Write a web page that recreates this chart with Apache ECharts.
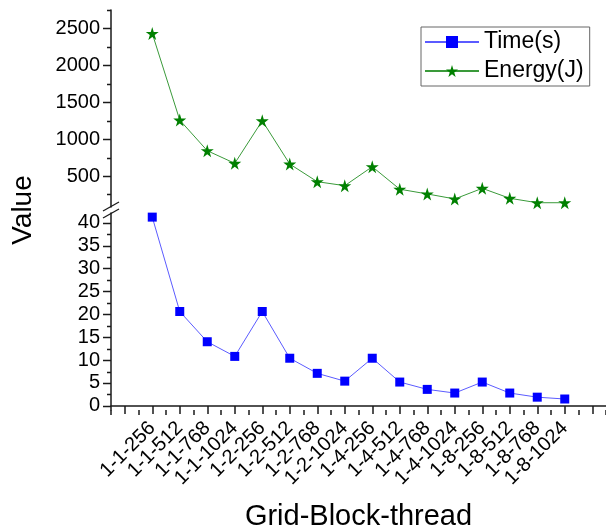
<!DOCTYPE html>
<html>
<head>
<meta charset="utf-8">
<script src="https://cdn.jsdelivr.net/npm/echarts@6/dist/echarts.min.js"></script>
<style>
  html, body { margin: 0; padding: 0; background: #fff; }
  #main { width: 606px; height: 532px; }
</style>
</head>
<body>
<div id="main"></div>
<script>
// grid-block-thread configurations
const configs = ['1-1-256', '1-1-512', '1-1-768', '1-1-1024', '1-2-256', '1-2-512', '1-2-768', '1-2-1024',
  '1-4-256', '1-4-512', '1-4-768', '1-4-1024', '1-8-256', '1-8-512', '1-8-768', '1-8-1024'];
const timeS = [41.2, 20.6, 14.0, 10.8, 20.6, 10.4, 7.1, 5.4, 10.4, 5.2, 3.6, 2.8, 5.2, 2.8, 1.9, 1.5];
const energyJ = [2432, 1258, 843, 672, 1249, 662, 423, 369, 626, 321, 257, 189, 333, 198, 138, 138];
const upperTicks = [500, 1000, 1500, 2000, 2500];
const upperMinor = [250, 750, 1250, 1750, 2250, 2750];
const lowerTicks = [0, 5, 10, 15, 20, 25, 30, 35, 40];
const lowerMinor = [2.5, 7.5, 12.5, 17.5, 22.5, 27.5, 32.5, 37.5];

// one empty slot at each end of the axis
const cats = [''].concat(configs, ['']);

const chart = echarts.init(document.getElementById('main'));
const font = 'Liberation Sans, Arial, sans-serif';
const axisColor = '#1a1a1a';
const gridLeft = 111;
const upperRange = [80, 2750];
const lowerRange = [-0.9, 42.1];
const star = 'path://M50,0 L61,35 L98,35 L68,57 L79,91 L50,70 L21,91 L32,57 L2,35 L39,35 Z';
const tickStyle = { color: axisColor, width: 1.5 };
const plain = v => String(v);

const option = {
  animation: false,
  textStyle: { fontFamily: font },
  grid: [
    { left: gridLeft, right: 0, top: 10, bottom: 325 },
    { left: gridLeft, right: 0, top: 213, bottom: 122 }
  ],
  legend: {
    orient: 'vertical',
    left: 421, top: 27,
    itemWidth: 54, itemHeight: 15, itemGap: 5,
    padding: [3, 6, 3, 3],
    borderColor: '#666', borderWidth: 1,
    textStyle: { fontSize: 23, color: '#000', fontFamily: font, lineHeight: 24 },
    data: ['Time(s)', 'Energy(J)']
  },
  xAxis: [
    { type: 'category', gridIndex: 0, data: cats, show: false },
    {
      type: 'category', gridIndex: 1, position: 'bottom', data: cats,
      axisLine: { show: true, lineStyle: tickStyle },
      axisTick: { show: true, alignWithLabel: true, interval: 0, length: 8, lineStyle: tickStyle },
      axisLabel: { interval: 0, rotate: 45, fontSize: 20, color: '#000', margin: 15 },
      name: 'Grid-Block-thread', nameLocation: 'middle', nameGap: 92,
      nameTextStyle: { fontSize: 29, color: '#000' }
    },
    {
      type: 'category', gridIndex: 1, position: 'bottom', data: cats,
      axisLine: { show: false },
      axisTick: { show: true, interval: 0, length: 5, lineStyle: tickStyle },
      axisLabel: { show: false }
    }
  ],
  yAxis: [
    {
      type: 'value', gridIndex: 0, position: 'left', min: upperRange[0], max: upperRange[1],
      splitLine: { show: false },
      axisLine: { show: true, lineStyle: tickStyle },
      axisTick: { show: false },
      axisLabel: { customValues: upperTicks, formatter: plain, fontSize: 20, color: '#000', margin: 11 }
    },
    {
      type: 'value', gridIndex: 1, position: 'left', min: lowerRange[0], max: lowerRange[1],
      splitLine: { show: false },
      axisLine: { show: true, lineStyle: tickStyle },
      axisTick: { show: false },
      axisLabel: { customValues: lowerTicks, formatter: plain, fontSize: 20, color: '#000', margin: 11 }
    }
  ],
  series: [
    {
      name: 'Time(s)', type: 'line', xAxisIndex: 1, yAxisIndex: 1,
      data: timeS.map((v, i) => [i + 1, v]),
      symbol: 'rect', symbolSize: 9,
      itemStyle: { color: '#0000ff' },
      lineStyle: { color: '#5b5bff', width: 1 }
    },
    {
      name: 'Energy(J)', type: 'line', xAxisIndex: 0, yAxisIndex: 0,
      data: energyJ.map((v, i) => [i + 1, v]),
      symbol: star, symbolSize: 13,
      itemStyle: { color: '#008000' },
      lineStyle: { color: '#3a9a3a', width: 1 }
    }
  ]
};

chart.setOption(option);

// y ticks, placed through the grid's coordinate system
const graphics = [];
function tickY(gridIndex, v) {
  const p = chart.convertToPixel({ gridIndex: gridIndex }, [1, v]);
  if (p && isFinite(p[1])) return p[1];
  // fallback: the grid's own linear mapping
  const r = gridIndex === 0 ? upperRange : lowerRange;
  const top = gridIndex === 0 ? 10 : 213;
  const h = gridIndex === 0 ? 197 : 197;
  return top + (r[1] - v) / (r[1] - r[0]) * h;
}
function addTicks(gridIndex, values, len) {
  values.forEach(v => {
    const y = Math.round(tickY(gridIndex, v)) + 0.5;
    graphics.push({
      type: 'line', z: 100, shape: { x1: gridLeft - len, y1: y, x2: gridLeft, y2: y },
      style: { stroke: axisColor, lineWidth: 1.5 }
    });
  });
}
addTicks(0, upperTicks, 8);
addTicks(0, upperMinor, 4);
addTicks(1, lowerTicks, 8);
addTicks(1, lowerMinor, 4);

// axis break marks and y title
graphics.push(
  { type: 'line', z: 100, shape: { x1: 103, y1: 211, x2: 119, y2: 202 }, style: { stroke: axisColor, lineWidth: 1.3 } },
  { type: 'line', z: 100, shape: { x1: 103, y1: 218, x2: 119, y2: 209 }, style: { stroke: axisColor, lineWidth: 1.3 } },
  {
    type: 'text', x: 23, y: 210, rotation: Math.PI / 2,
    style: { text: 'Value', fontSize: 28, fontFamily: font, fill: '#000', align: 'center', verticalAlign: 'middle' }
  }
);
chart.setOption({ graphic: graphics });
</script>
</body>
</html>
